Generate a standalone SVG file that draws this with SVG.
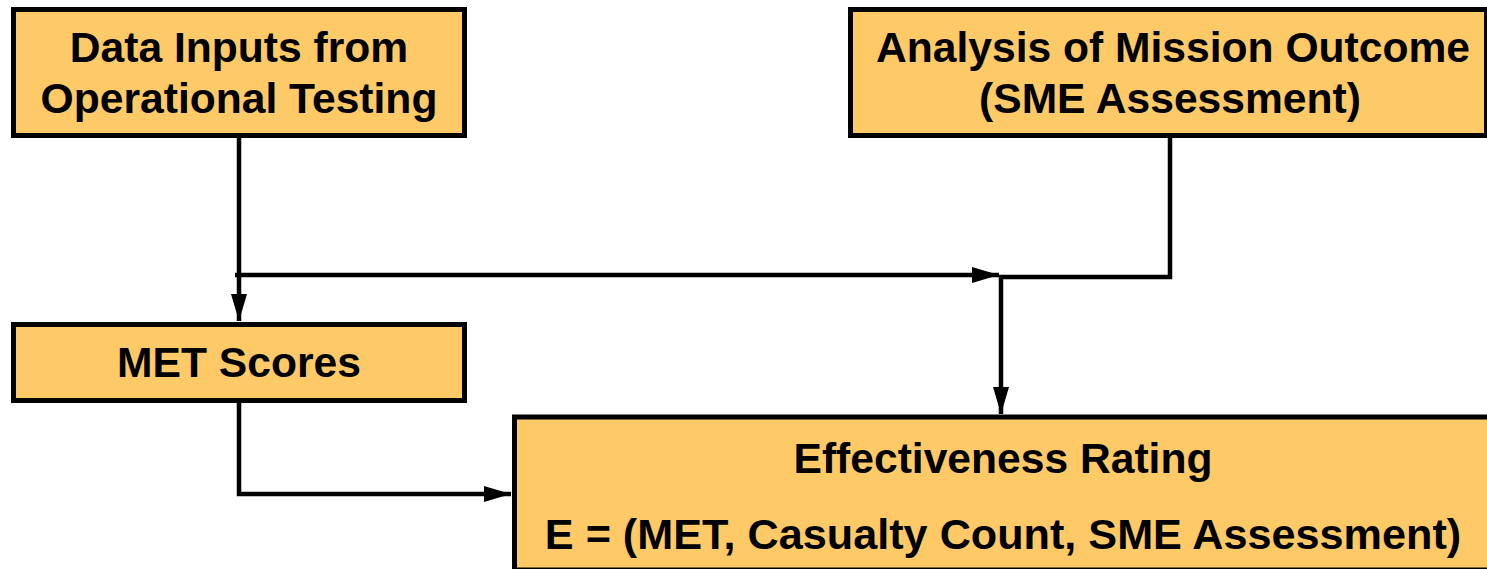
<svg xmlns="http://www.w3.org/2000/svg" width="1487" height="569" viewBox="0 0 1487 569">
<defs>
<style>
.box{fill:#FEC967;stroke:#000;stroke-width:5}
.t{font-family:"Liberation Sans",Arial,sans-serif;font-weight:bold;font-size:42.6px;fill:#000;text-anchor:middle}
.c{fill:none;stroke:#000;stroke-width:4.5}
</style>
<marker id="ah" markerUnits="userSpaceOnUse" markerWidth="28" markerHeight="18" refX="27" refY="9" orient="auto">
<path d="M0,1 L27,9 L0,17 Z" fill="#000"/>
</marker>
</defs>
<rect width="1487" height="569" fill="#fff"/>
<g id="connectors">
<path class="c" d="M239,137 V321" marker-end="url(#ah)"/>
<path class="c" d="M235,275 H999" marker-end="url(#ah)"/>
<path class="c" d="M1170,137 V277 H1001 V414" marker-end="url(#ah)"/>
<path class="c" d="M239,402 V494 H511" marker-end="url(#ah)"/>
</g>
<g id="data-inputs">
<rect class="box" x="13.5" y="9.5" width="451" height="126"/>
<text class="t" x="239" y="62">Data Inputs from</text>
<text class="t" x="239" y="113">Operational Testing</text>
</g>
<g id="analysis">
<rect class="box" x="850.5" y="9.5" width="636" height="126"/>
<text class="t" x="1173" y="62">Analysis of Mission Outcome</text>
<text class="t" x="1170" y="113">(SME Assessment)</text>
</g>
<g id="met-scores">
<rect class="box" x="13.5" y="324.5" width="451" height="76"/>
<text class="t" x="239" y="377">MET Scores</text>
</g>
<g id="effectiveness">
<rect class="box" x="514.5" y="417" width="980" height="153"/>
<text class="t" x="1003" y="473">Effectiveness Rating</text>
<text class="t" x="1003" y="549" style="font-size:43.2px">E = (MET, Casualty Count, SME Assessment)</text>
</g>
</svg>
